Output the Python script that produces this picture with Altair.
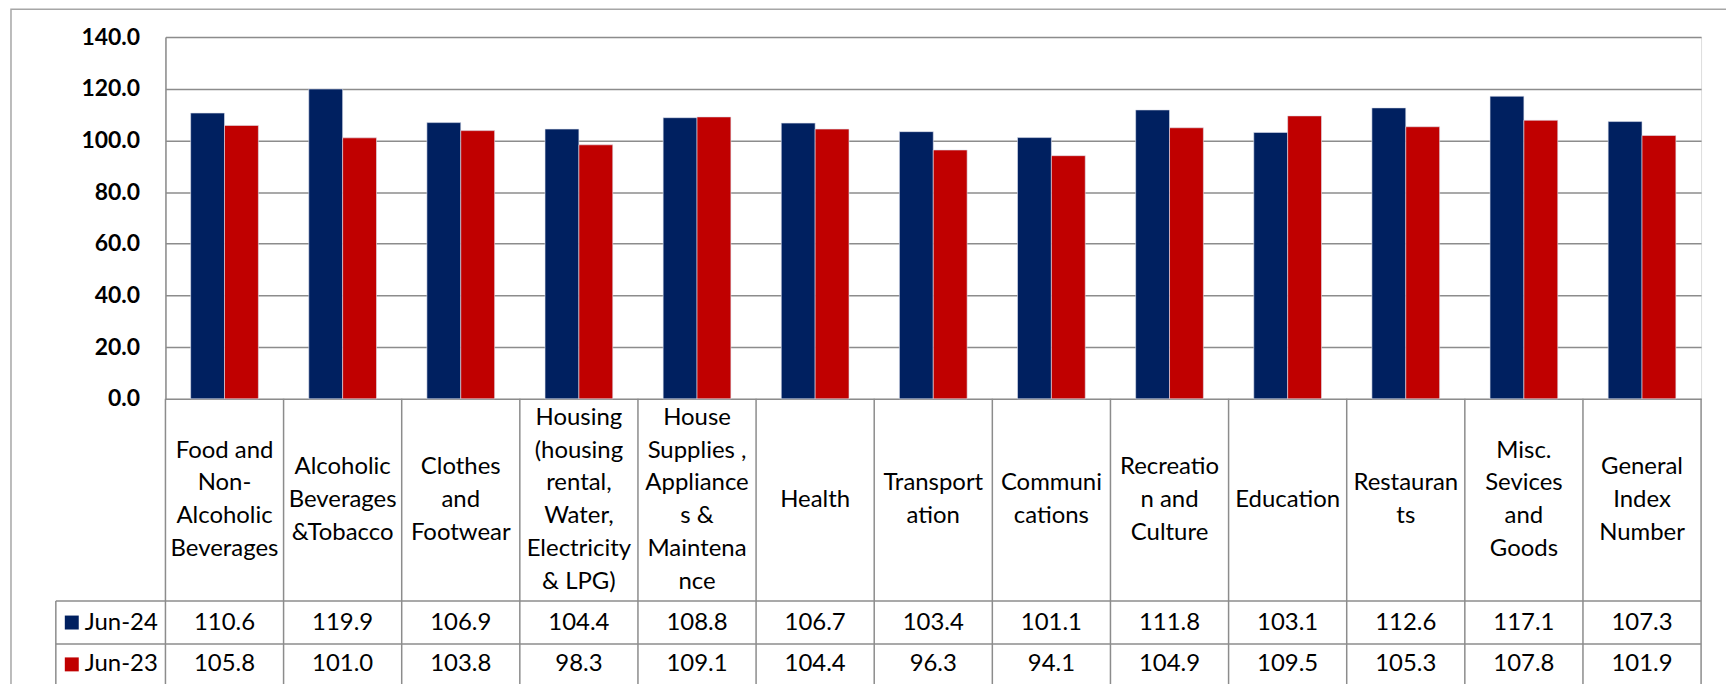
import altair as alt
import pandas as pd

categories = [
    "Food and\nNon-\nAlcoholic\nBeverages",
    "Alcoholic\nBeverages\n&Tobacco",
    "Clothes\nand\nFootwear",
    "Housing\n(housing\nrental,\nWater,\nElectricity\n& LPG)",
    "House\nSupplies ,\nAppliance\ns &\nMaintena\nnce",
    "Health",
    "Transport\nation",
    "Communi\ncations",
    "Recreatio\nn and\nCulture",
    "Education",
    "Restauran\nts",
    "Misc.\nSevices\nand\nGoods",
    "General\nIndex\nNumber",
]
series = ["Jun-24", "Jun-23"]
jun24 = [110.6, 119.9, 106.9, 104.4, 108.8, 106.7, 103.4, 101.1, 111.8, 103.1, 112.6, 117.1, 107.3]
jun23 = [105.8, 101.0, 103.8, 98.3, 109.1, 104.4, 96.3, 94.1, 104.9, 109.5, 105.3, 107.8, 101.9]
y_ticks = [0, 20, 40, 60, 80, 100, 120, 140]
colors = ["#002060", "#C00000"]

rows = []
for c, a, b in zip(categories, jun24, jun23):
    rows.append({"category": c, "series": "Jun-24", "value": a})
    rows.append({"category": c, "series": "Jun-23", "value": b})
df = pd.DataFrame(rows)
cat_df = pd.DataFrame({"category": categories})
cat_df["nlines"] = cat_df["category"].str.count("\n") + 1
leg_df = pd.DataFrame({"series": series})
one = pd.DataFrame({"k": [0]})

W, H = 1541, 363
CAT_BOTTOM, R1_BOTTOM, R2_BOTTOM = 566, 609, 650
LEG_LEFT = -110
GRID = "#8c8c8c"
FONT = "Lato"
FS = 24
LH = 33

band_scale = alt.Scale(paddingInner=0, paddingOuter=0)


def xcat(pos):
    return alt.X("category:N", sort=categories, scale=band_scale, axis=None, bandPosition=pos)


border = alt.Chart(one).mark_rect(fill="transparent", stroke="#a6a6a6", strokeWidth=1.5).encode(
    x=alt.value(-155), x2=alt.value(W + 300), y=alt.value(-28), y2=alt.value(H + 400)
)

bars = alt.Chart(df).mark_bar(stroke="#dfe3ee", strokeWidth=0.6).encode(
    x=alt.X("category:N", sort=categories, scale=band_scale, axis=None),
    xOffset=alt.XOffset("series:N", sort=series, scale=alt.Scale(paddingInner=0, paddingOuter=0.744)),
    y=alt.Y(
        "value:Q",
        scale=alt.Scale(domain=[0, 140]),
        axis=alt.Axis(
            values=y_ticks, format=".1f", title=None, tickSize=0, labelPadding=26,
            labelFont=FONT, labelFontSize=23, labelFontWeight="bold", labelColor="black",
            domainColor=GRID, domainWidth=1.5, gridColor=GRID, gridWidth=1.5,
        ),
    ),
    color=alt.Color("series:N", scale=alt.Scale(domain=series, range=colors), legend=None),
)

vlines = alt.Chart(cat_df).mark_rule(color=GRID, strokeWidth=1.5).encode(
    x=xcat(0), y=alt.value(H), y2=alt.value(R2_BOTTOM)
)
vline_end = alt.Chart(one).mark_rule(color=GRID, strokeWidth=1.5).encode(
    x=alt.value(W), y=alt.value(H), y2=alt.value(R2_BOTTOM)
)
hlines = []
for yy in (CAT_BOTTOM, R1_BOTTOM, R2_BOTTOM):
    hlines.append(alt.Chart(one).mark_rule(color=GRID, strokeWidth=1.5).encode(
        x=alt.value(LEG_LEFT), x2=alt.value(W), y=alt.value(yy)
    ))
hlines.append(alt.Chart(one).mark_rule(color=GRID, strokeWidth=1.5).encode(
    x=alt.value(LEG_LEFT), y=alt.value(CAT_BOTTOM), y2=alt.value(R2_BOTTOM)
))

cat_center = (H + CAT_BOTTOM) / 2
cat_layers = []
for n in sorted(cat_df["nlines"].unique()):
    cat_layers.append(
        alt.Chart(cat_df).transform_filter(alt.datum.nlines == int(n)).mark_text(
            font=FONT, fontSize=FS, lineBreak="\n", lineHeight=LH, baseline="middle",
            align="center", color="black"
        ).encode(x=xcat(0.5), y=alt.value(cat_center - (int(n) - 1) / 2 * LH), text="category:N")
    )

row_y = {"Jun-24": (CAT_BOTTOM + R1_BOTTOM) / 2, "Jun-23": (R1_BOTTOM + R2_BOTTOM) / 2}
num_layers = []
leg_layers = []
for s, col in zip(series, colors):
    num_layers.append(
        alt.Chart(df).transform_filter(alt.datum.series == s).mark_text(
            font=FONT, fontSize=FS, baseline="middle", align="center", color="black"
        ).encode(x=xcat(0.5), y=alt.value(row_y[s]), text=alt.Text("value:Q", format=".1f"))
    )
    leg_layers.append(
        alt.Chart(leg_df).transform_filter(alt.datum.series == s).mark_square(
            size=196, color=col, opacity=1, filled=True
        ).encode(x=alt.value(-94), y=alt.value(row_y[s]))
    )
    leg_layers.append(
        alt.Chart(leg_df).transform_filter(alt.datum.series == s).mark_text(
            font=FONT, fontSize=FS, baseline="middle", align="left", color="black"
        ).encode(x=alt.value(-81), y=alt.value(row_y[s]), text="series:N")
    )

chart = alt.layer(
    border, bars, vlines, vline_end, *hlines, *cat_layers, *num_layers, *leg_layers
).properties(
    width=W,
    height=H,
    autosize=alt.AutoSizeParams(type="none"),
    padding={"left": 158, "top": 28, "right": 25, "bottom": 285},
).configure_view(stroke=None).configure(background="white")

chart.save("out.html", embed_options={"renderer": "svg", "actions": False})
